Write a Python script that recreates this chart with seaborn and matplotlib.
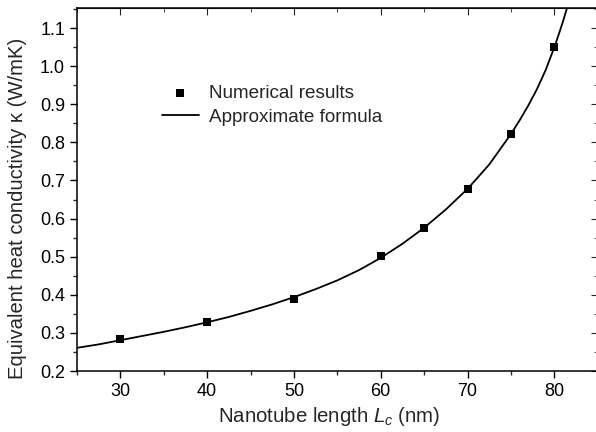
import numpy as np
import pandas as pd
import seaborn as sns
import matplotlib.pyplot as plt
from matplotlib.ticker import MultipleLocator

# numerical results (squares)
length_num = [30, 40, 50, 60, 65, 70, 75, 80]
kappa_num = [0.283, 0.330, 0.388, 0.501, 0.576, 0.678, 0.822, 1.051]

# approximate formula curve
length_fit = [25, 27.5, 30, 32.5, 35, 37.5, 40, 42.5, 45, 47.5, 50, 52.5, 55, 57.5,
              60, 62.5, 65, 67.5, 70, 72.5, 75, 76, 77, 78, 79, 80, 80.5, 81, 81.5]
kappa_fit = [0.261, 0.270, 0.281, 0.292, 0.303, 0.315, 0.328, 0.342, 0.358, 0.375,
             0.394, 0.415, 0.438, 0.465, 0.497, 0.534, 0.576, 0.624, 0.678, 0.742,
             0.822, 0.858, 0.897, 0.940, 0.990, 1.050, 1.083, 1.118, 1.156]

df_num = pd.DataFrame({'L': length_num, 'k': kappa_num})
df_fit = pd.DataFrame({'L': length_fit, 'k': kappa_fit})

sns.set_style('ticks')
plt.rcParams['font.family'] = ['Liberation Sans', 'DejaVu Sans']
plt.rcParams['mathtext.fontset'] = 'custom'
plt.rcParams['mathtext.it'] = 'Liberation Sans:italic'
plt.rcParams['mathtext.rm'] = 'Liberation Sans'

fig = plt.figure(figsize=(5.96, 4.32), dpi=100)
ax = fig.add_axes([0.129, 0.141, 0.874, 0.840])

sns.lineplot(data=df_fit, x='L', y='k', ax=ax, color='black', lw=1.3,
             label='Approximate formula', sort=False)
sns.scatterplot(data=df_num, x='L', y='k', ax=ax, color='black', marker='s',
                s=40, edgecolor='black', linewidth=0, label='Numerical results', zorder=3)

ax.set_xlim(25, 85)
ax.set_ylim(0.2, 1.152)
ax.xaxis.set_major_locator(MultipleLocator(10))
ax.xaxis.set_minor_locator(MultipleLocator(5))
ax.yaxis.set_major_locator(MultipleLocator(0.1))
ax.yaxis.set_minor_locator(MultipleLocator(0.05))
ax.tick_params(which='major', direction='out', length=5, width=1, labelsize=13, colors='black')
ax.tick_params(which='minor', direction='out', length=3, width=1)

for s in ax.spines.values():
    s.set_linewidth(1.1)
    s.set_color('black')

# mirrored ticks pointing inward on top and right
top = ax.secondary_xaxis('top')
top.xaxis.set_major_locator(MultipleLocator(10))
top.xaxis.set_minor_locator(MultipleLocator(5))
top.tick_params(which='major', direction='in', length=5, labeltop=False)
top.tick_params(which='minor', direction='in', length=3)
right = ax.secondary_yaxis('right')
right.yaxis.set_major_locator(MultipleLocator(0.1))
right.yaxis.set_minor_locator(MultipleLocator(0.05))
right.tick_params(which='major', direction='in', length=5, labelright=False)
right.tick_params(which='minor', direction='in', length=3)

ax.set_xlabel(r'Nanotube length $\mathit{L}_c$ (nm)', fontsize=14.7)
ax.xaxis.set_label_coords(0.484, -0.093)
ax.set_ylabel('Equivalent heat conductivity κ (W/mK)', fontsize=14.6)
ax.yaxis.set_label_coords(-0.096, 0.449)

handles, labels = ax.get_legend_handles_labels()
ax.legend(handles[::-1], labels[::-1], loc='upper left', bbox_to_anchor=(0.163, 0.789),
          frameon=False, fontsize=13.6, handlelength=1.95, handletextpad=0.55,
          labelspacing=0.35, borderaxespad=0, borderpad=0)

fig.savefig('out.png', dpi=100)
